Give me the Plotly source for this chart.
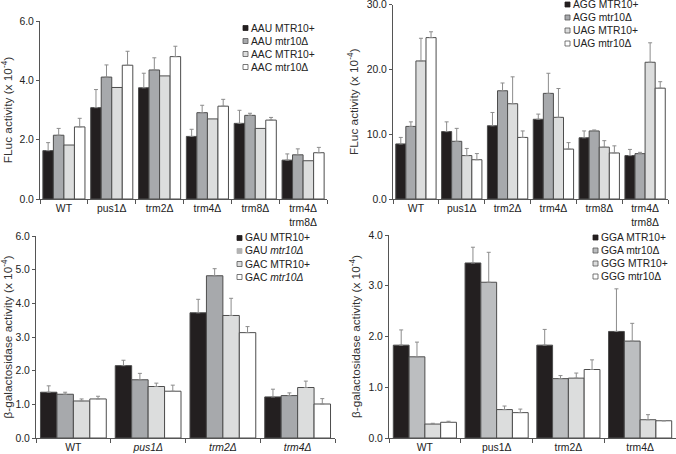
import plotly.graph_objects as go

W, H = 676, 454

# ---------------- data ----------------
cats_top = ["WT", "pus1Δ", "trm2Δ", "trm4Δ", "trm8Δ", "trm4Δ<br>trm8Δ"]
cats_bl = ["WT", "<i>pus1Δ</i>", "<i>trm2Δ</i>", "<i>trm4Δ</i>"]
cats_br = ["WT", "pus1Δ", "trm2Δ", "trm4Δ"]

# Panel A (FLuc, AAU/AAC)
aau_p = [1.63, 3.08, 3.75, 2.11, 2.55, 1.31]
aau_p_err = [0.27, 0.61, 0.49, 0.24, 0.44, 0.21]
aau_d = [2.15, 4.11, 4.35, 2.91, 2.82, 1.49]
aau_d_err = [0.23, 0.41, 0.41, 0.25, 0.07, 0.20]
aac_p = [1.82, 3.76, 4.15, 2.70, 2.38, 1.29]
aac_d = [2.43, 4.51, 4.80, 3.13, 2.66, 1.56]
aac_d_err = [0.29, 0.47, 0.35, 0.23, 0.09, 0.18]

# Panel B (FLuc, AGG/UAG)
agg_p = [8.5, 10.4, 11.3, 12.3, 9.45, 6.7]
agg_p_err = [1.0, 1.5, 2.05, 0.8, 1.05, 0.95]
agg_d = [11.2, 8.9, 16.7, 16.3, 10.5, 7.0]
agg_d_err = [0.7, 2.0, 1.2, 3.1, 0.15, 0.2]
uag_p = [21.3, 6.7, 14.7, 12.6, 8.0, 21.1]
uag_p_err = [3.5, 1.1, 4.15, 4.45, 1.0, 3.0]
uag_d = [24.9, 6.06, 9.5, 7.7, 7.1, 17.1]
uag_d_err = [0.9, 0.95, 1.0, 1.0, 1.1, 1.0]

# Panel C (beta-gal, GAU/GAC)
gau_p = [1.36, 2.15, 3.72, 1.22]
gau_p_err = [0.19, 0.16, 0.40, 0.23]
gau_d = [1.30, 1.73, 4.82, 1.26]
gau_d_err = [0.06, 0.19, 0.21, 0.08]
gac_p = [1.10, 1.53, 3.64, 1.50]
gac_p_err = [0.06, 0.10, 0.51, 0.19]
gac_d = [1.16, 1.39, 3.13, 1.01]
gac_d_err = [0.08, 0.18, 0.18, 0.16]

# Panel D (beta-gal, GGA/GGG)
gga_p = [1.83, 3.45, 1.83, 2.10]
gga_p_err = [0.30, 0.31, 0.31, 0.84]
gga_d = [1.60, 3.07, 1.17, 1.91]
gga_d_err = [0.29, 0.59, 0.06, 0.35]
ggg_p = [0.275, 0.56, 1.18, 0.36]
ggg_p_err = [0.015, 0.07, 0.10, 0.10]
ggg_d = [0.31, 0.50, 1.35, 0.34]
ggg_d_err = [0.02, 0.07, 0.19, 0.0]

names_a = ["AAU MTR10+", "AAU mtr10Δ", "AAC MTR10+", "AAC mtr10Δ"]
names_b = ["AGG MTR10+", "AGG mtr10Δ", "UAG MTR10+", "UAG mtr10Δ"]
names_c = ["GAU MTR10+", "GAU <i>mtr10Δ</i>", "GAC MTR10+", "GAC <i>mtr10Δ</i>"]
names_d = ["GGA MTR10+", "GGA mtr10Δ", "GGG MTR10+", "GGG mtr10Δ"]

# ---------------- styles ----------------
BLACK = "#231f20"
GRAY = "#a7a9ac"
GRAY_D = "#bcbec0"
LIGHT = "#dcdddd"
WHITE = "#ffffff"
EDGE = "#4d4d4d"
ERRC = "#8c8c8c"
FONT = "Liberation Sans, Arial, sans-serif"
TXT = "#222222"

fig = go.Figure()


def add_bar(x, y, err, color, name, axis_n):
    xa = "x" if axis_n == 1 else f"x{axis_n}"
    ya = "y" if axis_n == 1 else f"y{axis_n}"
    kw = {}
    if err is not None:
        kw["error_y"] = dict(type="data", symmetric=False, array=err,
                             arrayminus=[0] * len(err), color=ERRC,
                             thickness=1, width=2)
    fig.add_trace(go.Bar(x=x, y=y, name=name, xaxis=xa, yaxis=ya,
                         marker=dict(color=color, line=dict(color=EDGE, width=1)),
                         showlegend=False, **kw))


cols_abc = [BLACK, GRAY, LIGHT, WHITE]
cols_d = [BLACK, GRAY_D, LIGHT, WHITE]

for ys, es, n, c in zip([aau_p, aau_d, aac_p, aac_d],
                        [aau_p_err, aau_d_err, None, aac_d_err], names_a, cols_abc):
    add_bar(cats_top, ys, es, c, n, 1)
for ys, es, n, c in zip([agg_p, agg_d, uag_p, uag_d],
                        [agg_p_err, agg_d_err, uag_p_err, uag_d_err], names_b, cols_abc):
    add_bar(cats_top, ys, es, c, n, 2)
for ys, es, n, c in zip([gau_p, gau_d, gac_p, gac_d],
                        [gau_p_err, gau_d_err, gac_p_err, gac_d_err], names_c, cols_abc):
    add_bar(cats_bl, ys, es, c, n, 3)
for ys, es, n, c in zip([gga_p, gga_d, ggg_p, ggg_d],
                        [gga_p_err, gga_d_err, ggg_p_err, ggg_d_err], names_d, cols_d):
    add_bar(cats_br, ys, es, c, n, 4)


def px_x(v):
    return v / W


def px_y(v):
    return 1 - v / H


def xaxis(x0, x1, anchor):
    return dict(domain=[px_x(x0), px_x(x1)], anchor=anchor, type="category",
                showline=True, linecolor="#555", linewidth=1,
                ticks="outside", tickson="boundaries", ticklen=4,
                tickcolor="#555", showgrid=False,
                tickfont=dict(size=10.4, color=TXT, family=FONT))


def yaxis(ytop, ybot, rng, tvals, title, anchor):
    return dict(domain=[px_y(ybot), px_y(ytop)], anchor=anchor,
                range=rng, tickmode="array", tickvals=tvals, tickformat=".1f",
                showline=True, linecolor="#555", linewidth=1,
                ticks="outside", ticklen=3, tickcolor="#555",
                showgrid=False, zeroline=False, ticklabeloverflow="allow",
                tickfont=dict(size=10.4, color=TXT, family=FONT),
                title=dict(text=title, standoff=5,
                           font=dict(size=11.8, color="#333", family=FONT)))


fl_title = "FLuc activity (x 10<sup>-4</sup>)"
bg_title = "β-galactosidase activity (x 10<sup>-4</sup>)"

ticks_a = [0, 2, 4, 6]
ticks_b = [0, 10, 20, 30]
ticks_c = [0, 1, 2, 3, 4, 5, 6]
ticks_d = [0, 1, 2, 3, 4]

fig.update_layout(
    width=W, height=H,
    margin=dict(l=0, r=0, t=0, b=0, autoexpand=False),
    paper_bgcolor="white", plot_bgcolor="white",
    font=dict(family=FONT, color=TXT),
    barmode="group",
    bargap=0.12, bargroupgap=0.0,
    showlegend=False,
    xaxis=xaxis(40, 327, "y"),
    yaxis=yaxis(21, 199, [0, 6.001], ticks_a, fl_title, "x"),
    xaxis2=xaxis(393, 668, "y2"),
    yaxis2=yaxis(4.5, 199, [0, 30.01], ticks_b, fl_title, "x2"),
    xaxis3=xaxis(36, 335, "y3"),
    yaxis3=yaxis(236, 438, [0, 6.001], ticks_c, bg_title, "x3"),
    xaxis4=xaxis(389, 676, "y4"),
    yaxis4=yaxis(235, 438, [0, 4.001], ticks_d, bg_title, "x4"),
)

# ---------------- legends (swatch + label, per panel) ----------------
legend_boxes = [
    # names, colours, marker left x, first row y
    (names_a, cols_abc, 243, 28.0),
    (names_b, cols_abc, 565, 4.5),
    (names_c, [BLACK, "#b3b3b3", LIGHT, WHITE], 237, 238.0),
    (names_d, cols_d, 593, 237.5),
]
ROW = 13.0
SW = 5
for names, cols, mx, y0 in legend_boxes:
    for i, (n, c) in enumerate(zip(names, cols)):
        yc = y0 + i * ROW
        edge = c if c in (BLACK,) else "#555"
        if n == "GAU <i>mtr10Δ</i>":
            edge = c
        fig.add_shape(type="rect", xref="paper", yref="paper",
                      x0=px_x(mx), x1=px_x(mx + SW),
                      y0=px_y(yc + SW / 2), y1=px_y(yc - SW / 2),
                      fillcolor=c, line=dict(color=edge, width=0.8))
        fig.add_annotation(xref="paper", yref="paper", x=px_x(mx + SW + 0.5),
                           y=px_y(yc), text=n, showarrow=False,
                           xanchor="left", yanchor="middle",
                           font=dict(size=10.3, color=TXT, family=FONT))

fig.write_html("out.html",
               config={"displayModeBar": False},
               post_script="document.body.style.margin='0';document.body.style.overflow='hidden';")
